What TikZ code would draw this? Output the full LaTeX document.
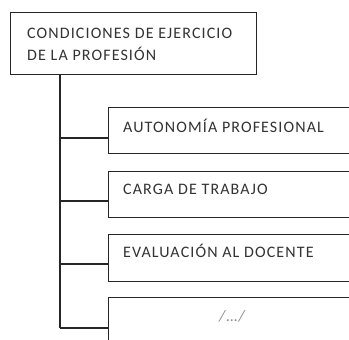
\documentclass[tikz,border=0pt]{standalone}
\usepackage{fontspec}
\setmainfont{Carlito}
\begin{document}
\begin{tikzpicture}[x=1pt,y=1pt,
  box/.style={draw=black!85, line width=1.1pt, rectangle, inner sep=0pt, anchor=north west},
  txt/.style={text=black!80, font=\fontsize{16}{22}\selectfont\addfontfeature{LetterSpace=7}, inner sep=0pt, anchor=base west, align=left},
  conn/.style={draw=black!85, line width=1.1pt}]
\useasboundingbox (0,0) rectangle (349,-340);
\clip (0,0) rectangle (349,-340);
\fill[white] (0,0) rectangle (349,-340);
\node[box, minimum width=246pt, minimum height=62pt] (top) at (10,-12) {};
\node[txt] (toptext) at (27,-60) {CONDICIONES DE EJERCICIO\\DE LA PROFESIÓN};
\node[box, minimum width=260pt, minimum height=46pt] (b1) at (108,-107) {};
\node[box, minimum width=260pt, minimum height=46pt] (b2) at (108,-171) {};
\node[box, minimum width=260pt, minimum height=47pt] (b3) at (108,-234) {};
\node[box, minimum width=260pt, minimum height=50pt] (b4) at (108,-297) {};
\node[txt] (t1) at (123,-132) {AUTONOMÍA PROFESIONAL};
\node[txt] (t2) at (123,-194) {CARGA DE TRABAJO};
\node[txt] (t3) at (123,-257) {EVALUACIÓN AL DOCENTE};
\node[txt, text=black!45, anchor=base] (t4) at (233,-321) {\textit{/…/}};
\coordinate (trunk) at (60,-74);
\coordinate (j1) at (60,-138);
\coordinate (j2) at (60,-201);
\coordinate (j3) at (60,-264);
\coordinate (j4) at (60,-328);
\draw[conn] (trunk) -- (j4);
\draw[conn] (j1) -- (j1 -| b1.west);
\draw[conn] (j2) -- (j2 -| b2.west);
\draw[conn] (j3) -- (j3 -| b3.west);
\draw[conn] (j4) -- (j4 -| b4.west);
\end{tikzpicture}
\end{document}
